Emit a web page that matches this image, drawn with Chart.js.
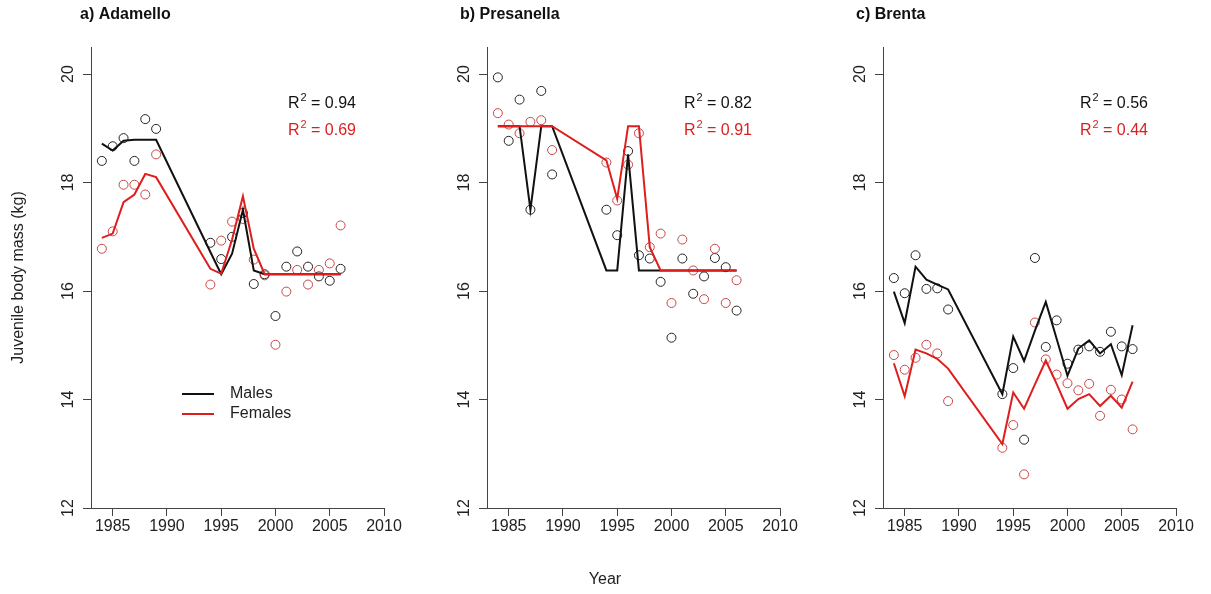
<!DOCTYPE html>
<html>
<head>
<meta charset="utf-8">
<title>Juvenile body mass</title>
<script src="https://cdn.jsdelivr.net/npm/chart.js@4/dist/chart.umd.min.js"></script>
<style>
  body { margin: 0; background: #fff; width: 1211px; height: 594px; position: relative; overflow: hidden; }
  canvas { position: absolute; top: 0; }
</style>
</head>
<body>
<canvas id="ca" width="403" height="594" style="left:11px"></canvas>
<canvas id="cb" width="403" height="594" style="left:407px"></canvas>
<canvas id="cc" width="403" height="594" style="left:803px"></canvas>
<script>
// Years with data (same for the three areas)
const years = [1984, 1985, 1986, 1987, 1988, 1989, 1994, 1995, 1996, 1997, 1998, 1999, 2000, 2001, 2002, 2003, 2004, 2005, 2006];
const xTicks = [1985, 1990, 1995, 2000, 2005, 2010];
const yTicks = [12, 14, 16, 18, 20];

// a) Adamello
const adaMalesObs = [18.40, 18.67, 18.82, 18.40, 19.17, 18.99, 16.89, 16.59, 17.00, 17.44, 16.13, 16.31, 15.54, 16.45, 16.73, 16.45, 16.27, 16.19, 16.41];
const adaFemalesObs = [16.78, 17.10, 17.96, 17.96, 17.78, 18.52, 16.12, 16.93, 17.28, 17.33, 16.58, 16.29, 15.01, 15.99, 16.39, 16.12, 16.39, 16.51, 17.21];
const adaMalesFit = [18.72, 18.59, 18.77, 18.79, 18.79, 18.79, 16.72, 16.31, 16.69, 17.50, 16.38, 16.31, 16.31, 16.31, 16.31, 16.31, 16.31, 16.31, 16.31];
const adaFemalesFit = [16.98, 17.06, 17.64, 17.78, 18.16, 18.10, 16.41, 16.32, 16.95, 17.75, 16.78, 16.31, 16.31, 16.31, 16.31, 16.31, 16.31, 16.31, 16.31];

// b) Presanella
const preMalesObs = [19.94, 18.77, 19.53, 17.50, 19.69, 18.15, 17.50, 17.03, 18.58, 16.66, 16.60, 16.17, 15.14, 16.60, 15.95, 16.27, 16.61, 16.44, 15.64];
const preFemalesObs = [19.28, 19.07, 18.91, 19.12, 19.15, 18.60, 18.37, 17.67, 18.33, 18.91, 16.81, 17.06, 15.78, 16.95, 16.38, 15.85, 16.78, 15.78, 16.20];
const preMalesFit = [19.04, 19.04, 19.04, 17.50, 19.04, 19.04, 16.38, 16.38, 18.52, 16.38, 16.38, 16.38, 16.38, 16.38, 16.38, 16.38, 16.38, 16.38, 16.38];
const preFemalesFit = [19.04, 19.04, 19.04, 19.04, 19.04, 19.04, 18.41, 17.70, 19.04, 19.04, 16.81, 16.38, 16.38, 16.38, 16.38, 16.38, 16.38, 16.38, 16.38];

// c) Brenta
const breMalesObs = [16.24, 15.96, 16.66, 16.04, 16.05, 15.66, 14.10, 14.58, 13.26, 16.61, 14.97, 15.46, 14.66, 14.92, 14.98, 14.88, 15.25, 14.98, 14.93];
const breFemalesObs = [14.82, 14.55, 14.77, 15.01, 14.85, 13.97, 13.11, 13.53, 12.62, 15.42, 14.74, 14.46, 14.30, 14.17, 14.29, 13.70, 14.18, 14.00, 13.45];
const breMalesFit = [15.99, 15.41, 16.45, 16.21, 16.12, 16.03, 14.10, 15.16, 14.71, 15.27, 15.80, 15.12, 14.44, 14.94, 15.09, 14.85, 15.02, 14.45, 15.37];
const breFemalesFit = [14.67, 14.06, 14.92, 14.85, 14.75, 14.57, 13.18, 14.13, 13.83, 14.28, 14.72, 14.29, 13.83, 14.01, 14.10, 13.88, 14.07, 13.85, 14.33];

const negro = "#111";
const rojo = "rgb(222,30,30)";
const rojoPunto = "rgb(200,70,70)";
const fuente = "'Liberation Sans', Arial, sans-serif";

function pares(vals) {
  return years.map((y, i) => ({ x: y, y: vals[i] }));
}

function r2(ctx, x, y, valor, color) {
  ctx.fillStyle = color;
  ctx.textAlign = "left";
  ctx.textBaseline = "middle";
  ctx.font = "16px " + fuente;
  ctx.fillText("R", x, y);
  let w = ctx.measureText("R").width;
  ctx.font = "11px " + fuente;
  ctx.fillText("2", x + w + 1, y - 6);
  ctx.font = "16px " + fuente;
  ctx.fillText(" = " + valor, x + w + 7, y);
}

// Texts drawn on top: rotated y tick labels, titles, R2, legend
const textos = {
  id: "textos",
  afterDraw(chart, args, o) {
    const ctx = chart.ctx;
    const area = chart.chartArea;
    const ys = chart.scales.y;
    ctx.save();
    ctx.fillStyle = "#222";
    ctx.font = "16px " + fuente;
    ys.ticks.forEach(t => {
      ctx.save();
      ctx.translate(area.left - 22, ys.getPixelForValue(t.value));
      ctx.rotate(-Math.PI / 2);
      ctx.textAlign = "center";
      ctx.textBaseline = "middle";
      ctx.fillText(String(t.value), 0, 0);
      ctx.restore();
    });

    ctx.font = "bold 16px " + fuente;
    ctx.textAlign = "left";
    ctx.textBaseline = "middle";
    ctx.fillStyle = "#111";
    ctx.fillText(o.titulo, area.left + o.tituloDx, 15);

    r2(ctx, area.left + 197, 104, o.r2m, negro);
    r2(ctx, area.left + 197, 131, o.r2f, rojo);

    if (o.leyenda) {
      ctx.lineWidth = 2;
      ctx.strokeStyle = negro;
      ctx.beginPath(); ctx.moveTo(area.left + 91, 394); ctx.lineTo(area.left + 123, 394); ctx.stroke();
      ctx.strokeStyle = rojo;
      ctx.beginPath(); ctx.moveTo(area.left + 91, 414); ctx.lineTo(area.left + 123, 414); ctx.stroke();
      ctx.fillStyle = "#222";
      ctx.font = "16px " + fuente;
      ctx.fillText("Males", area.left + 139, 394);
      ctx.fillText("Females", area.left + 139, 414);
    }
    if (o.ylab) {
      ctx.save();
      ctx.translate(8, (area.top + area.bottom) / 2);
      ctx.rotate(-Math.PI / 2);
      ctx.textAlign = "center";
      ctx.fillStyle = "#222";
      ctx.font = "16px " + fuente;
      ctx.fillText("Juvenile body mass (kg)", 0, 0);
      ctx.restore();
    }
    if (o.xlab) {
      ctx.textAlign = "center";
      ctx.fillStyle = "#222";
      ctx.font = "16px " + fuente;
      ctx.fillText("Year", 198, 580);
    }
    ctx.restore();
  },
};

function panel(id, mObs, fObs, mFit, fFit, extra) {
  let c = document.getElementById(id).getContext("2d");
  return new Chart(c, {
    type: "scatter",
    data: {
      datasets: [
        { type: "line", data: pares(fFit), borderColor: rojo, borderWidth: 2, pointRadius: 0, tension: 0 },
        { type: "line", data: pares(mFit), borderColor: negro, borderWidth: 2, pointRadius: 0, tension: 0 },
        { data: pares(fObs), pointStyle: "circle", pointRadius: 4.5, pointBorderWidth: 1, borderColor: rojoPunto, backgroundColor: "rgba(0,0,0,0)" },
        { data: pares(mObs), pointStyle: "circle", pointRadius: 4.5, pointBorderWidth: 1, borderColor: "#222", backgroundColor: "rgba(0,0,0,0)" },
      ],
    },
    options: {
      responsive: false,
      animation: false,
      devicePixelRatio: 1,
      layout: { padding: { top: 47, right: 30, left: 0, bottom: 0 } },
      plugins: { legend: { display: false }, tooltip: { enabled: false }, textos: extra },
      scales: {
        x: {
          type: "linear",
          min: 1983,
          max: 2010,
          afterBuildTicks: s => { s.ticks = xTicks.map(v => ({ value: v })); },
          afterFit: s => { s.height = 86; },
          grid: { drawOnChartArea: false, drawTicks: true, tickLength: 8, color: "#444" },
          border: { color: "#444", width: 1 },
          ticks: { color: "#222", font: { family: fuente, size: 16 }, padding: 1, maxRotation: 0, callback: v => String(v) },
        },
        y: {
          type: "linear",
          min: 12,
          max: 20.5,
          afterBuildTicks: s => { s.ticks = yTicks.map(v => ({ value: v })); },
          afterFit: s => { s.width = 80; },
          grid: { drawOnChartArea: false, drawTicks: true, tickLength: 8, color: "#444" },
          border: { color: "#444", width: 1 },
          ticks: { display: false },
        },
      },
    },
    plugins: [textos],
  });
}

let grafA = panel("ca", adaMalesObs, adaFemalesObs, adaMalesFit, adaFemalesFit,
  { titulo: "a) Adamello", tituloDx: -11, r2m: "0.94", r2f: "0.69", leyenda: true, ylab: true });
let grafB = panel("cb", preMalesObs, preFemalesObs, preMalesFit, preFemalesFit,
  { titulo: "b) Presanella", tituloDx: -27, r2m: "0.82", r2f: "0.91", xlab: true });
let grafC = panel("cc", breMalesObs, breFemalesObs, breMalesFit, breFemalesFit,
  { titulo: "c) Brenta", tituloDx: -27, r2m: "0.56", r2f: "0.44" });
</script>
</body>
</html>
